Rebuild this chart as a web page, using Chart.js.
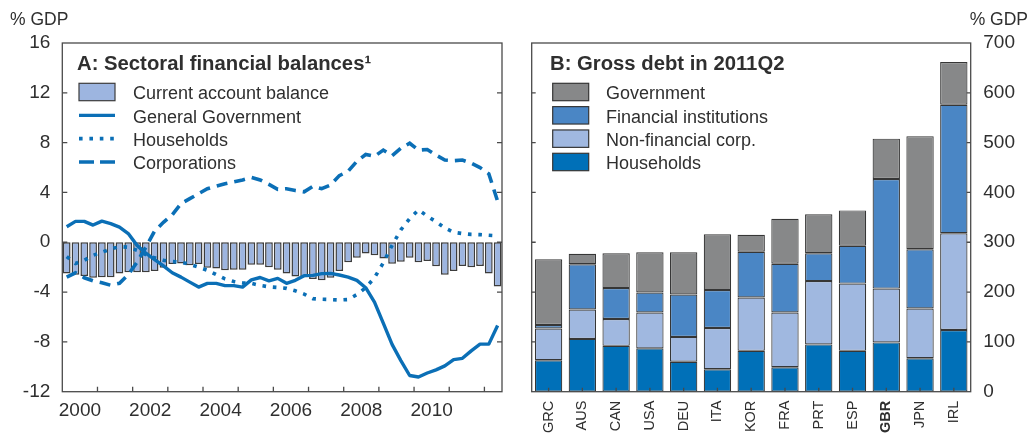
<!DOCTYPE html>
<html lang="en">
<head>
    <meta charset="UTF-8">
    <title>Sectoral balances and gross debt</title>
    <script src="https://cdn.jsdelivr.net/npm/chart.js"></script>
    <style>
        body { margin: 0; background: #fff; }
        #wrap { position: relative; width: 1032px; height: 435px; }
        canvas { position: absolute; top: 0; }
        #balances { left: 0; }
        #debt { left: 516px; }
    </style>
</head>
<body>
    <div id="wrap">
        <canvas id="balances" width="516" height="435"></canvas>
        <canvas id="debt" width="516" height="435"></canvas>
    </div>

    <script>
        // Panel A: quarterly sectoral balances, % of GDP, 2000Q1 - 2012Q2
        const firstYear = 2000;
        const yearLabels = [2000, 2002, 2004, 2006, 2008, 2010];
        const currentAccount = [
            -2.5, -2.6, -2.7, -2.85, -2.8, -2.8, -2.5, -2.4, -2.4, -2.4,
            -2.3, -2.05, -1.75, -1.7, -1.85, -1.75, -2.05, -2.1, -2.25, -2.2,
            -2.2, -1.8, -1.8, -2.0, -2.2, -2.5, -2.75, -2.8, -2.95, -3.05,
            -2.85, -2.3, -1.6, -1.25, -0.9, -1.05, -1.3, -1.72, -1.57, -1.25,
            -1.6, -1.5, -1.92, -2.6, -2.3, -1.9, -2.0, -1.9, -2.5, -3.55
        ];
        const generalGovernment = [
            1.25, 1.68, 1.68, 1.38, 1.7, 1.5, 1.22, 0.7, -0.25, -0.88,
            -1.4, -1.9, -2.45, -2.8, -3.2, -3.6, -3.3, -3.3, -3.48, -3.48,
            -3.6, -3.02, -2.83, -3.1, -2.9, -3.3, -3.06, -2.68, -2.66, -2.52,
            -2.5, -2.63, -2.8, -3.06, -3.65, -4.8, -6.5, -8.2, -9.5, -10.7,
            -10.82, -10.5, -10.25, -9.93, -9.42, -9.32, -8.72, -8.18, -8.18, -6.68
        ];
        const households = [
            -1.15, -1.7, -1.45, -1.05, -0.8, -0.55, -0.35, -0.4, -0.65, -1.0,
            -1.25, -1.45, -1.55, -1.6, -1.77, -2.0, -2.25, -2.6, -2.94, -3.15,
            -3.26, -3.3, -3.47, -3.58, -3.63, -3.7, -3.9, -4.16, -4.53, -4.58,
            -4.6, -4.64, -4.6, -4.2, -3.65, -2.85, -1.65, -0.25, 1.0, 1.9,
            2.6, 2.1, 1.65, 1.15, 0.8, 0.7, 0.63, 0.61, 0.56, 0.52
        ];
        const corporations = [
            -2.8, -2.45, -2.85, -3.1, -3.25, -3.45, -3.3, -2.6, -1.6, -0.4,
            0.9, 1.6, 2.2, 3.1, 3.5, 3.9, 4.3, 4.5, 4.7, 4.85,
            5.0, 5.2, 5.0, 4.65, 4.25, 4.3, 4.15, 4.05, 4.5, 4.3,
            4.6, 5.35, 5.7, 6.5, 7.05, 6.9, 7.4, 6.95, 7.55, 7.95,
            7.4, 7.45, 7.0, 6.6, 6.55, 6.6, 6.35, 6.0, 5.5, 3.3
        ];

        // Panel B: gross debt by sector in 2011Q2, % of GDP
        const countries = ['GRC', 'AUS', 'CAN', 'USA', 'DEU', 'ITA', 'KOR', 'FRA', 'PRT', 'ESP', 'GBR', 'JPN', 'IRL'];
        const debtHouseholds = [63, 106, 92, 87, 60, 45, 82, 49, 95, 82, 99, 67, 124];
        const debtNonFinCorp = [64, 59, 54, 72, 50, 83, 107, 110, 127, 135, 108, 100, 194];
        const debtFinancial = [7, 91, 62, 40, 85, 76, 92, 98, 56, 76, 220, 119, 258];
        const debtGovernment = [132, 21, 70, 81, 85, 112, 34, 90, 78, 71, 81, 227, 86];

        const FONT = '"Liberation Sans", Arial, Helvetica, sans-serif';
        const TEXT = '#2f2f2f';
        const FRAME = '#4a4a4a';
        const BLUE = '#0b6fb6';

        Chart.defaults.font.family = FONT;
        Chart.defaults.color = TEXT;

        const quarterX = currentAccount.map((_, i) => firstYear + (i + 0.5) / 4);
        const asPoints = vals => vals.map((v, i) => ({ x: quarterX[i], y: v }));

        // frame, inward tick marks, title, unit label and legend
        const panelDecor = {
            id: 'panelDecor',
            afterDraw(chart, args, o) {
                const { ctx, chartArea: a, scales } = chart;
                const yScale = scales.y;
                ctx.save();

                ctx.strokeStyle = FRAME;
                ctx.lineWidth = 1.3;
                ctx.beginPath();
                yScale.ticks.forEach(t => {
                    const py = yScale.getPixelForValue(t.value);
                    if (py <= a.top + 1 || py >= a.bottom - 1) return;
                    ctx.moveTo(a.left, py); ctx.lineTo(a.left + o.tick, py);
                    ctx.moveTo(a.right, py); ctx.lineTo(a.right - o.tick, py);
                });
                o.xMarks(scales.x).forEach(px => {
                    ctx.moveTo(px, a.bottom); ctx.lineTo(px, a.bottom - o.tick);
                });
                ctx.stroke();
                ctx.strokeRect(a.left, a.top, a.right - a.left, a.bottom - a.top);

                ctx.fillStyle = TEXT;
                ctx.textBaseline = 'alphabetic';
                ctx.font = '17.5px ' + FONT;
                ctx.textAlign = o.unit.align;
                ctx.fillText('% GDP', o.unit.x, 25);

                ctx.textAlign = 'left';
                ctx.font = 'bold 20.3px ' + FONT;
                ctx.fillText(o.title, o.titleX, 69.5);

                ctx.font = '18px ' + FONT;
                o.legend.forEach((idx, row) => {
                    const ds = chart.data.datasets[idx];
                    const cy = 92 + row * 23.33;
                    if (ds.type === 'line') {
                        ctx.strokeStyle = ds.borderColor;
                        ctx.lineWidth = ds.borderWidth;
                        ctx.setLineDash(ds.legendDash || []);
                        ctx.beginPath();
                        ctx.moveTo(o.boxX, cy);
                        ctx.lineTo(o.boxX + 36, cy);
                        ctx.stroke();
                        ctx.setLineDash([]);
                    } else {
                        ctx.fillStyle = ds.backgroundColor;
                        ctx.fillRect(o.boxX, cy - 8.7, 36, 17.4);
                        ctx.strokeStyle = ds.borderColor;
                        ctx.lineWidth = 1.2;
                        ctx.strokeRect(o.boxX, cy - 8.7, 36, 17.4);
                    }
                    ctx.fillStyle = TEXT;
                    ctx.fillText(ds.label, o.textX, cy + 7.3);
                });
                ctx.restore();
            }
        };

        new Chart(document.getElementById('balances'), {
            type: 'bar',
            data: {
                datasets: [
                    {
                        type: 'line', label: 'General Government', data: asPoints(generalGovernment),
                        borderColor: BLUE, borderWidth: 3.4, pointRadius: 0, tension: 0,
                        borderJoinStyle: 'round', order: 1
                    },
                    {
                        type: 'line', label: 'Households', data: asPoints(households),
                        borderColor: BLUE, borderWidth: 3.6, borderDash: [3.6, 6.8], legendDash: [3.6, 6.8],
                        pointRadius: 0, tension: 0, order: 1
                    },
                    {
                        type: 'line', label: 'Corporations', data: asPoints(corporations),
                        borderColor: BLUE, borderWidth: 3.6, borderDash: [11, 7], legendDash: [15, 6],
                        pointRadius: 0, tension: 0, order: 1
                    },
                    {
                        type: 'bar', label: 'Current account balance', data: asPoints(currentAccount),
                        backgroundColor: '#9db5e0', borderColor: '#3c3c3c', borderWidth: 1.5,
                        borderSkipped: false, barPercentage: 0.88, categoryPercentage: 1, order: 2
                    }
                ]
            },
            options: {
                responsive: false,
                animation: false,
                events: [],
                devicePixelRatio: 1,
                layout: { padding: { top: 43, right: 14, left: 0, bottom: 0 } },
                scales: {
                    x: {
                        type: 'linear',
                        offset: false,
                        min: firstYear,
                        max: 2012.5,
                        grid: { display: false, drawTicks: false },
                        border: { display: false },
                        afterBuildTicks: s => { s.ticks = yearLabels.map(y => ({ value: y + 0.5 })); },
                        afterFit: s => { s.height = 43.3; },
                        ticks: {
                            autoSkip: false, maxRotation: 0, padding: 8,
                            font: { size: 19 },
                            callback: v => String(Math.floor(v))
                        }
                    },
                    y: {
                        min: -12,
                        max: 16,
                        grid: { display: false, drawTicks: false },
                        border: { display: false },
                        afterFit: s => { s.width = 62.3; },
                        ticks: { stepSize: 4, padding: 12, font: { size: 19 } }
                    }
                },
                plugins: {
                    legend: { display: false },
                    tooltip: { enabled: false },
                    panelDecor: {
                        tick: 5,
                        xMarks: s => [2001, 2002, 2003, 2004, 2005, 2006, 2007, 2008, 2009, 2010, 2011, 2012]
                            .map(y => s.getPixelForValue(y)),
                        unit: { x: 10, align: 'left' },
                        title: 'A: Sectoral financial balances\u00B9',
                        titleX: 77,
                        boxX: 79,
                        textX: 133,
                        legend: [3, 0, 1, 2]
                    }
                }
            },
            plugins: [panelDecor]
        });

        const debtBar = (label, data, color) => ({
            label, data, backgroundColor: color, borderColor: '#363636', borderWidth: 1.2,
            borderSkipped: false, barPercentage: 0.81, categoryPercentage: 1
        });

        new Chart(document.getElementById('debt'), {
            type: 'bar',
            data: {
                labels: countries,
                datasets: [
                    debtBar('Households', debtHouseholds, '#0070b8'),
                    debtBar('Non-financial corp.', debtNonFinCorp, '#a0b8e0'),
                    debtBar('Financial institutions', debtFinancial, '#4a86c5'),
                    debtBar('Government', debtGovernment, '#878889')
                ]
            },
            options: {
                responsive: false,
                animation: false,
                events: [],
                devicePixelRatio: 1,
                layout: { padding: { top: 43, right: 0, left: 15.7, bottom: 0 } },
                scales: {
                    x: {
                        stacked: true,
                        grid: { display: false, drawTicks: false },
                        border: { display: false },
                        afterFit: s => { s.height = 43.3; },
                        ticks: {
                            autoSkip: false, minRotation: 90, maxRotation: 90, padding: 9,
                            font: ctx => ({ size: 14.5, weight: ctx.tick && ctx.tick.label === 'GBR' ? 'bold' : 'normal' })
                        }
                    },
                    y: {
                        position: 'right',
                        stacked: true,
                        min: 0,
                        max: 700,
                        grid: { display: false, drawTicks: false },
                        border: { display: false },
                        afterFit: s => { s.width = 61.3; },
                        ticks: { stepSize: 100, padding: 12.6, font: { size: 19 } }
                    }
                },
                plugins: {
                    legend: { display: false },
                    tooltip: { enabled: false },
                    panelDecor: {
                        tick: 4,
                        xMarks: s => s.ticks.map((t, i) => s.getPixelForTick(i)),
                        unit: { x: 512, align: 'right' },
                        title: 'B: Gross debt in 2011Q2',
                        titleX: 34,
                        boxX: 36.7,
                        textX: 90,
                        legend: [3, 2, 1, 0]
                    }
                }
            },
            plugins: [panelDecor]
        });
    </script>
</body>
</html>
